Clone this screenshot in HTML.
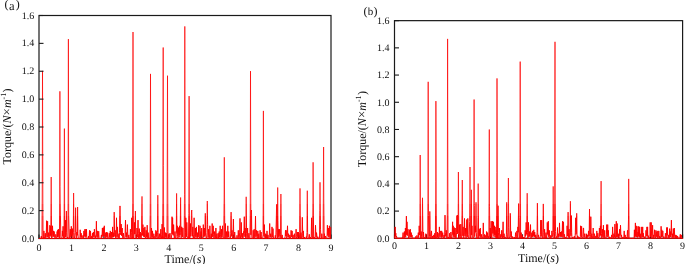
<!DOCTYPE html>
<html><head><meta charset="utf-8"><style>
html,body{margin:0;padding:0;background:#fff;}
body{width:685px;height:264px;overflow:hidden;}
svg{display:block;}
text{font-family:"Liberation Serif","Times New Roman",serif;fill:#111;text-rendering:geometricPrecision;}
.tk text{font-size:10px;}
.ax{font-size:12px;}
</style></head><body>
<svg width="685" height="264" viewBox="0 0 685 264">
<g fill="none" stroke="#1a1a1a" stroke-width="1.2">
<rect x="39.00" y="15.50" width="292.00" height="223.00"/>
<rect x="394.50" y="20.65" width="288.10" height="217.65"/>
</g>
<g stroke="#1a1a1a" stroke-width="1.1">
<line x1="39.00" y1="238.50" x2="39.00" y2="234.50"/>
<line x1="71.44" y1="238.50" x2="71.44" y2="234.50"/>
<line x1="103.89" y1="238.50" x2="103.89" y2="234.50"/>
<line x1="136.33" y1="238.50" x2="136.33" y2="234.50"/>
<line x1="168.78" y1="238.50" x2="168.78" y2="234.50"/>
<line x1="201.22" y1="238.50" x2="201.22" y2="234.50"/>
<line x1="233.67" y1="238.50" x2="233.67" y2="234.50"/>
<line x1="266.11" y1="238.50" x2="266.11" y2="234.50"/>
<line x1="298.56" y1="238.50" x2="298.56" y2="234.50"/>
<line x1="331.00" y1="238.50" x2="331.00" y2="234.50"/>
<line x1="394.50" y1="238.30" x2="394.50" y2="234.30"/>
<line x1="426.51" y1="238.30" x2="426.51" y2="234.30"/>
<line x1="458.52" y1="238.30" x2="458.52" y2="234.30"/>
<line x1="490.53" y1="238.30" x2="490.53" y2="234.30"/>
<line x1="522.54" y1="238.30" x2="522.54" y2="234.30"/>
<line x1="554.56" y1="238.30" x2="554.56" y2="234.30"/>
<line x1="586.57" y1="238.30" x2="586.57" y2="234.30"/>
<line x1="618.58" y1="238.30" x2="618.58" y2="234.30"/>
<line x1="650.59" y1="238.30" x2="650.59" y2="234.30"/>
<line x1="682.60" y1="238.30" x2="682.60" y2="234.30"/>
</g>
<defs>
<clipPath id="cu"><rect x="0" y="0" width="685" height="204"/></clipPath>
<clipPath id="cm"><rect x="0" y="204" width="685" height="12"/></clipPath>
<clipPath id="cl"><rect x="0" y="216" width="685" height="48"/></clipPath>
<polyline id="pL" points="39.0,238.5 39.3,238.2 39.7,238.5 40.0,238.2 40.3,238.4 40.6,238.4 41.0,238.5 41.3,236.1 41.6,238.3 42.0,238.5 42.3,169.5 42.5,70.9 43.0,238.4 43.3,238.5 43.6,236.9 43.9,230.9 44.3,236.8 44.6,238.5 44.9,237.3 45.3,233.2 45.6,237.5 45.9,238.4 46.3,233.4 46.6,220.7 46.9,235.6 47.2,237.1 47.6,221.2 47.9,236.6 48.2,237.6 48.6,232.6 48.9,237.3 49.2,238.5 49.6,236.6 49.9,225.2 50.2,236.4 50.5,226.3 50.9,234.9 51.2,177.0 51.5,238.5 51.9,238.5 52.2,235.2 52.5,225.8 52.9,236.8 53.2,236.6 53.5,230.9 53.8,236.4 54.2,231.5 54.5,237.5 54.8,238.5 55.2,238.3 55.5,237.6 55.8,234.3 56.2,237.7 56.5,238.3 56.8,238.0 57.1,231.5 57.5,237.1 57.8,229.8 58.1,236.8 58.5,229.2 58.8,235.8 59.1,238.5 59.5,238.3 59.9,91.3 60.1,186.5 60.4,213.0 60.8,236.9 61.1,238.3 61.4,238.5 61.8,238.5 62.1,236.9 62.4,230.9 62.8,236.2 63.1,226.3 63.4,237.1 63.7,238.5 64.1,232.0 64.4,128.6 64.7,238.5 65.1,234.4 65.4,220.1 65.7,237.0 66.1,233.6 66.4,211.0 66.7,232.5 67.0,238.5 67.4,238.3 67.7,237.0 68.0,238.5 68.4,39.1 68.7,215.0 69.0,228.0 69.4,237.1 69.7,238.5 70.0,236.8 70.3,229.2 70.7,235.8 71.0,237.5 71.3,226.3 71.7,235.4 72.0,236.2 72.3,228.6 72.7,235.6 73.0,238.3 73.3,232.5 73.6,193.0 74.0,232.5 74.3,238.5 74.6,238.5 75.0,235.4 75.3,232.5 75.6,207.7 76.0,232.5 76.3,238.3 76.6,237.3 76.9,232.0 77.3,235.3 77.6,207.0 77.9,233.6 78.3,238.5 78.6,238.5 78.9,238.2 79.3,238.5 79.6,238.4 79.9,237.9 80.2,229.8 80.6,236.8 80.9,237.7 81.2,233.2 81.6,237.6 81.9,238.5 82.2,238.3 82.6,237.8 82.9,235.4 83.2,238.0 83.5,237.8 83.9,230.9 84.2,236.5 84.5,235.8 84.9,229.2 85.2,237.5 85.5,236.6 85.9,229.2 86.2,236.4 86.5,229.2 86.8,237.9 87.2,238.5 87.5,238.3 87.8,238.5 88.2,238.5 88.5,236.1 88.8,238.5 89.2,236.2 89.5,230.3 89.8,236.3 90.1,237.9 90.5,230.9 90.8,236.9 91.1,238.5 91.5,236.2 91.8,238.4 92.1,237.8 92.5,233.2 92.8,238.0 93.1,236.8 93.4,232.0 93.8,237.0 94.1,236.7 94.4,229.2 94.8,236.6 95.1,238.3 95.4,235.7 95.8,238.5 96.1,233.9 96.4,221.2 96.7,236.2 97.1,237.2 97.4,230.9 97.7,237.7 98.1,238.4 98.4,237.3 98.7,231.2 99.1,237.8 99.4,238.5 99.7,238.5 100.0,238.5 100.4,238.5 100.7,238.5 101.0,238.0 101.4,234.9 101.7,237.7 102.0,237.2 102.4,228.0 102.7,236.3 103.0,235.8 103.3,227.5 103.7,236.2 104.0,236.4 104.3,225.8 104.7,236.6 105.0,238.3 105.3,238.1 105.7,232.6 106.0,237.1 106.3,236.6 106.6,232.0 107.0,237.8 107.3,237.2 107.6,232.6 108.0,237.3 108.3,238.5 108.6,238.5 109.0,237.2 109.3,233.2 109.6,237.3 109.9,237.7 110.3,230.9 110.6,237.9 110.9,238.3 111.3,237.6 111.6,232.0 111.9,237.9 112.3,236.2 112.6,226.9 112.9,237.2 113.2,232.6 113.6,237.0 113.9,236.9 114.2,212.1 114.6,232.5 114.9,236.4 115.2,230.3 115.6,238.0 115.9,238.5 116.2,234.6 116.5,217.8 116.9,237.3 117.2,236.5 117.5,226.9 117.9,237.7 118.2,238.5 118.5,237.6 118.9,233.7 119.2,238.2 119.5,232.5 119.8,206.0 120.2,206.0 120.5,232.5 120.8,234.9 121.2,224.1 121.5,235.4 121.8,235.9 122.2,228.0 122.5,237.4 122.8,238.5 123.1,238.1 123.5,233.2 123.8,237.8 124.1,238.5 124.5,238.5 124.8,238.5 125.1,234.1 125.5,220.1 125.8,234.1 126.1,237.1 126.4,232.6 126.8,237.6 127.1,236.0 127.4,224.6 127.8,235.2 128.1,238.5 128.4,237.8 128.8,234.9 129.1,238.1 129.4,238.5 129.7,238.5 130.1,236.9 130.4,229.2 130.7,235.9 131.1,238.5 131.4,232.5 131.7,217.8 132.1,237.1 132.4,238.3 132.7,202.1 133.0,32.0 133.4,238.5 133.7,238.5 134.0,235.7 134.4,222.4 134.7,234.1 135.0,228.0 135.4,211.0 135.7,234.8 136.0,238.5 136.3,238.5 136.7,235.7 137.0,228.0 137.3,237.3 137.7,235.1 138.0,220.1 138.3,233.5 138.7,238.5 139.0,235.8 139.3,228.6 139.6,237.7 140.0,237.7 140.3,232.0 140.6,237.5 141.0,238.5 141.3,238.5 141.6,232.5 142.0,196.4 142.3,235.5 142.6,235.1 142.9,224.6 143.3,235.4 143.6,236.6 143.9,228.0 144.3,237.0 144.6,237.1 144.9,226.9 145.3,236.2 145.6,238.5 145.9,236.4 146.2,230.3 146.6,237.4 146.9,236.9 147.2,225.2 147.6,237.8 147.9,238.0 148.2,232.6 148.6,238.0 148.9,238.5 149.2,238.4 149.5,238.5 149.9,238.5 150.2,214.3 150.5,73.9 150.9,238.5 151.2,236.8 151.5,228.0 151.9,235.9 152.2,237.4 152.5,230.9 152.8,237.8 153.2,238.5 153.5,238.1 153.8,233.7 154.2,237.1 154.5,236.6 154.8,238.5 155.2,238.3 155.5,236.8 155.8,230.3 156.1,236.7 156.5,231.5 156.8,236.5 157.1,238.4 157.5,232.5 157.8,195.2 158.1,232.5 158.5,238.5 158.8,238.5 159.1,237.6 159.4,233.7 159.8,237.7 160.1,238.5 160.4,237.1 160.8,229.2 161.1,237.2 161.4,238.5 161.8,234.7 162.1,224.1 162.4,235.2 162.7,238.5 163.2,47.5 163.4,165.5 163.7,238.5 164.1,235.4 164.4,227.5 164.7,237.9 165.1,236.2 165.4,232.6 165.7,237.4 166.0,237.5 166.4,233.2 166.7,237.7 167.0,238.5 167.5,75.7 167.7,171.5 168.0,238.5 168.4,238.5 168.7,237.0 169.0,233.7 169.3,237.2 169.7,237.5 170.0,233.2 170.3,237.9 170.7,238.5 171.0,238.5 171.3,238.5 171.7,234.7 172.0,216.7 172.3,234.2 172.6,217.8 173.0,234.4 173.3,235.3 173.6,224.6 174.0,234.4 174.3,238.5 174.6,237.3 175.0,231.5 175.3,238.1 175.6,238.5 175.9,238.5 176.3,234.5 176.6,193.4 176.9,232.5 177.3,225.8 177.6,236.3 177.9,238.5 178.3,235.8 178.6,227.5 178.9,235.4 179.2,237.4 179.6,225.8 179.9,235.1 180.2,232.5 180.6,197.5 180.9,232.5 181.2,237.9 181.6,226.9 181.9,226.9 182.2,236.2 182.5,236.9 182.9,228.0 183.2,237.4 183.5,238.5 183.9,238.5 184.2,238.5 184.5,194.8 184.8,26.4 185.2,238.5 185.5,232.6 185.8,217.8 186.2,237.0 186.5,236.3 186.8,222.4 187.2,235.8 187.5,238.5 187.8,238.5 188.2,238.5 188.5,238.3 188.8,213.4 189.1,96.1 189.5,238.3 189.8,238.5 190.1,236.8 190.5,223.5 190.8,236.4 191.1,232.5 191.5,211.0 191.8,210.0 192.1,232.5 192.4,236.3 192.8,226.9 193.1,237.3 193.4,238.5 193.8,234.3 194.1,217.8 194.4,236.2 194.8,238.5 195.1,237.1 195.4,228.0 195.7,236.6 196.1,237.2 196.4,226.9 196.7,235.8 197.1,238.5 197.4,237.9 197.7,232.6 198.1,237.0 198.4,235.5 198.7,225.2 199.0,237.4 199.4,238.5 199.7,236.2 200.0,225.8 200.4,237.7 200.7,237.8 201.0,231.5 201.4,236.1 201.7,228.0 202.0,236.4 202.3,238.5 202.7,238.5 203.0,236.0 203.3,224.6 203.7,237.2 204.0,237.2 204.3,228.0 204.7,236.2 205.0,234.1 205.3,213.3 205.6,235.2 206.0,237.0 206.3,238.5 206.6,238.5 207.0,232.5 207.3,201.0 207.6,224.6 208.0,237.6 208.3,235.9 208.6,229.2 208.9,237.1 209.3,238.2 209.6,235.0 209.9,225.8 210.3,237.1 210.6,238.5 210.9,237.6 211.3,233.7 211.6,238.0 211.9,234.4 212.2,223.5 212.6,236.9 212.9,236.1 213.2,225.8 213.6,234.8 213.9,238.4 214.2,236.9 214.6,231.5 214.9,237.2 215.2,238.5 215.5,237.0 215.9,228.0 216.2,236.6 216.5,238.3 216.9,233.7 217.2,238.1 217.5,238.5 217.9,237.9 218.2,233.2 218.5,238.2 218.8,237.7 219.2,231.5 219.5,237.4 219.8,235.1 220.2,225.8 220.5,234.9 220.8,238.3 221.2,238.0 221.5,229.2 221.8,237.0 222.1,235.7 222.5,225.8 222.8,235.5 223.1,238.5 223.5,238.5 223.8,238.5 224.1,197.9 224.3,157.3 224.8,238.5 225.1,237.0 225.4,223.5 225.8,237.7 226.1,237.7 226.4,231.5 226.8,237.6 227.1,238.5 227.4,237.3 227.8,225.8 228.1,237.0 228.4,237.0 228.7,231.5 229.1,237.8 229.4,238.4 229.7,238.3 230.1,238.5 230.4,238.3 230.7,233.9 231.1,212.1 231.4,232.5 231.7,236.4 232.0,230.3 232.4,236.5 232.7,238.5 233.0,232.9 233.4,219.0 233.7,233.0 234.0,238.4 234.4,237.3 234.7,232.0 235.0,237.1 235.3,238.5 235.7,238.3 236.0,238.5 236.3,238.5 236.7,238.4 237.0,235.3 237.3,238.5 237.7,238.5 238.0,237.4 238.3,230.3 238.6,237.0 239.0,238.4 239.3,238.5 239.6,232.9 240.0,218.4 240.3,234.9 240.6,238.2 241.0,236.0 241.3,222.4 241.6,235.0 241.9,237.6 242.3,233.2 242.6,238.1 242.9,238.5 243.3,237.5 243.6,231.5 243.9,232.5 244.3,216.7 244.6,233.4 244.9,236.8 245.2,228.0 245.6,237.8 245.9,232.5 246.2,196.8 246.6,233.8 246.9,238.5 247.2,237.7 247.6,228.0 247.9,237.3 248.2,238.3 248.5,237.5 248.9,233.2 249.2,238.1 249.5,238.5 249.9,238.3 250.2,218.8 250.5,71.1 250.9,234.8 251.2,212.0 251.5,210.0 251.8,236.9 252.2,238.5 252.5,238.5 252.8,237.9 253.2,230.3 253.5,237.8 253.8,236.8 254.2,229.2 254.5,236.1 254.8,238.5 255.1,236.4 255.5,216.1 255.8,236.8 256.1,236.4 256.5,230.3 256.8,236.1 257.1,238.5 257.5,236.7 257.8,230.9 258.1,238.0 258.4,238.1 258.8,233.7 259.1,238.1 259.4,238.5 259.8,237.9 260.1,230.3 260.4,237.1 260.8,238.1 261.1,232.0 261.4,236.9 261.7,238.3 262.1,238.5 262.4,238.5 262.7,238.4 263.1,234.7 263.4,110.9 263.7,234.7 264.1,236.4 264.4,224.6 264.7,237.1 265.0,238.5 265.4,238.1 265.7,233.7 266.0,237.6 266.4,238.5 266.7,236.6 267.0,230.9 267.4,237.0 267.7,238.1 268.0,234.9 268.3,237.6 268.7,238.5 269.0,238.5 269.3,235.8 269.7,223.5 270.0,235.6 270.3,237.2 270.7,233.7 271.0,237.4 271.3,238.5 271.6,237.6 272.0,226.9 272.3,235.9 272.6,237.3 273.0,228.6 273.3,236.0 273.6,238.5 274.0,238.5 274.3,238.4 274.6,238.5 274.9,238.5 275.3,235.3 275.6,238.5 275.9,235.0 276.3,220.0 276.6,204.3 276.9,232.5 277.3,238.2 277.7,187.5 277.9,220.5 278.2,237.7 278.6,229.2 278.9,236.5 279.2,235.8 279.6,229.2 279.9,238.0 280.2,238.5 280.6,234.8 280.9,194.0 281.2,234.0 281.5,238.5 281.9,238.3 282.2,234.9 282.5,237.9 282.9,238.3 283.2,238.5 283.5,238.5 283.9,238.5 284.2,238.3 284.5,238.5 284.8,238.3 285.2,236.2 285.5,230.3 285.8,236.1 286.2,230.3 286.5,236.6 286.8,238.5 287.2,235.3 287.5,225.8 287.8,235.3 288.1,237.1 288.5,233.7 288.8,237.1 289.1,238.5 289.5,238.0 289.8,234.9 290.1,236.9 290.5,238.4 290.8,237.0 291.1,230.3 291.4,236.1 291.8,237.0 292.1,230.9 292.4,237.4 292.8,238.3 293.1,234.9 293.4,237.7 293.8,238.2 294.1,238.2 294.4,233.7 294.7,237.5 295.1,238.2 295.4,238.5 295.7,237.4 296.1,229.2 296.4,236.5 296.7,238.5 297.1,236.6 297.4,232.0 297.7,237.6 298.0,237.3 298.4,232.0 298.7,237.3 299.0,238.4 299.4,238.5 299.7,232.6 300.0,188.4 300.4,238.3 300.7,238.0 301.0,232.6 301.3,237.1 301.7,238.5 302.0,233.7 302.3,217.3 302.7,233.4 303.0,237.7 303.3,230.9 303.7,238.0 304.0,238.5 304.3,238.3 304.6,237.0 305.0,238.4 305.3,238.5 305.6,238.5 306.0,238.5 306.3,236.6 306.6,238.5 307.0,232.5 307.3,190.7 307.6,232.5 307.9,237.0 308.3,238.4 308.6,238.5 308.9,237.9 309.3,234.3 309.6,237.9 309.9,238.3 310.3,237.0 310.6,238.3 310.9,238.3 311.2,237.3 311.6,217.8 311.9,235.2 312.2,238.5 312.6,238.5 312.9,207.1 313.1,162.3 313.6,238.3 313.9,238.2 314.2,237.0 314.5,238.3 314.9,238.5 315.2,236.0 315.5,225.2 315.9,235.2 316.2,237.4 316.5,232.6 316.9,235.8 317.2,238.4 317.5,238.1 317.8,236.7 318.2,238.2 318.5,238.2 318.8,238.5 319.2,238.3 319.5,238.5 319.8,210.4 320.0,182.3 320.5,229.2 320.8,236.9 321.1,238.4 321.5,238.2 321.8,233.7 322.1,237.1 322.5,238.5 322.8,238.5 323.1,238.5 323.6,147.0 323.8,198.1 324.1,238.2 324.4,233.7 324.8,238.0 325.1,238.3 325.4,236.0 325.8,237.8 326.1,238.5 326.4,238.3 326.8,238.5 327.1,234.8 327.4,225.2 327.7,235.4 328.1,235.3 328.4,228.0 328.7,237.3 329.1,235.0 329.4,225.8 329.7,237.5 330.1,238.5 330.4,237.0 330.7,226.9"/>
<polyline id="pR" points="394.5,238.3 394.8,235.1 395.2,226.9 395.5,236.4 395.8,233.2 396.1,237.4 396.5,236.0 396.8,237.9 397.1,238.3 397.5,238.0 397.8,238.3 398.1,238.3 398.5,238.3 398.8,238.3 399.1,238.3 399.4,238.3 399.8,238.3 400.1,238.3 400.4,238.3 400.8,238.3 401.1,238.3 401.4,237.8 401.8,238.3 402.1,238.3 402.4,238.3 402.7,237.0 403.1,232.6 403.4,237.9 403.7,238.3 404.1,237.5 404.4,231.5 404.7,237.7 405.1,237.5 405.4,228.0 405.7,236.9 406.0,234.7 406.4,216.1 406.7,234.8 407.0,221.8 407.4,234.8 407.7,235.6 408.0,229.2 408.4,236.2 408.7,238.2 409.0,236.0 409.3,235.9 409.7,229.8 410.0,237.4 410.3,229.2 410.7,236.8 411.0,236.9 411.3,232.6 411.7,237.3 412.0,234.9 412.3,237.8 412.6,238.2 413.0,238.3 413.3,238.3 413.6,238.3 414.0,238.3 414.3,238.3 414.6,238.3 415.0,238.3 415.3,237.8 415.6,236.5 415.9,238.1 416.3,238.3 416.6,237.7 416.9,235.4 417.3,237.9 417.6,238.3 417.9,237.9 418.3,232.6 418.6,237.5 418.9,236.2 419.2,225.8 419.6,235.0 419.9,226.1 420.2,155.0 420.6,238.1 420.9,237.7 421.2,231.5 421.6,236.5 421.9,238.3 422.2,233.0 422.5,197.8 422.9,233.3 423.2,237.8 423.5,232.0 423.9,237.5 424.2,238.3 424.5,238.1 424.9,237.0 425.2,237.9 425.5,237.6 425.8,233.7 426.2,237.7 426.5,238.3 426.8,238.3 427.2,238.3 427.5,238.2 427.8,238.2 428.2,81.8 428.5,215.3 428.8,238.3 429.1,238.0 429.5,236.7 429.8,211.4 430.1,229.8 430.5,236.3 430.8,238.3 431.1,237.1 431.5,230.9 431.8,236.2 432.1,238.0 432.4,236.0 432.8,237.8 433.1,238.3 433.4,237.8 433.8,234.9 434.1,237.7 434.4,237.6 434.8,233.2 435.1,237.9 435.4,238.2 435.7,181.8 435.9,101.1 436.4,238.3 436.7,238.3 437.1,237.7 437.4,232.0 437.7,237.3 438.1,233.2 438.4,236.8 438.7,238.0 439.0,237.4 439.4,226.9 439.7,235.2 440.0,236.9 440.4,232.0 440.7,230.9 441.0,237.5 441.4,237.7 441.7,230.9 442.0,237.1 442.3,236.6 442.7,232.6 443.0,237.2 443.3,238.3 443.7,238.1 444.0,234.9 444.3,237.7 444.7,234.1 445.0,215.0 445.3,232.3 445.6,236.3 446.0,236.5 446.3,230.3 446.6,235.8 447.0,238.3 447.3,214.8 447.6,38.9 448.0,238.3 448.3,238.2 448.6,237.0 448.9,238.2 449.3,237.3 449.6,233.2 449.9,237.3 450.3,238.3 450.6,237.1 450.9,232.0 451.3,236.6 451.6,238.1 451.9,238.0 452.2,233.9 452.6,221.8 452.9,234.6 453.2,225.8 453.6,236.2 453.9,237.5 454.2,227.5 454.6,235.2 454.9,237.4 455.2,228.0 455.5,237.7 455.9,238.3 456.2,238.3 456.5,232.7 456.9,215.5 457.2,234.0 457.5,215.0 457.9,233.3 458.2,213.0 458.4,172.0 458.8,238.1 459.2,236.8 459.5,224.6 459.8,236.3 460.2,238.2 460.5,236.6 460.8,224.1 461.2,237.0 461.5,238.2 461.8,238.3 462.3,180.0 462.5,210.9 462.8,235.8 463.1,226.9 463.5,236.6 463.8,238.3 464.1,235.4 464.5,218.4 464.8,234.4 465.1,236.1 465.4,228.0 465.8,235.8 466.1,238.0 466.4,234.1 466.8,219.5 467.1,236.0 467.4,236.9 467.8,218.4 468.1,234.3 468.4,238.3 468.7,238.2 469.1,237.3 469.4,228.0 469.7,221.5 470.0,167.0 470.4,238.3 470.7,238.2 471.1,235.3 471.4,189.8 471.7,234.9 472.0,225.8 472.4,237.5 472.7,238.2 473.0,238.1 473.4,238.2 473.7,238.3 474.1,99.5 474.4,205.6 474.7,236.7 475.0,226.9 475.3,225.8 475.7,232.3 476.0,202.3 476.3,232.3 476.7,238.3 477.0,238.3 477.3,238.3 477.7,238.3 478.0,217.4 478.2,183.6 478.6,238.3 479.0,237.3 479.3,229.2 479.6,235.7 480.0,236.3 480.3,228.0 480.6,237.5 481.0,238.3 481.3,237.3 481.6,234.3 481.9,237.4 482.3,238.3 482.6,238.3 482.9,236.0 483.3,222.9 483.6,234.6 483.9,238.2 484.3,237.3 484.6,234.3 484.9,237.8 485.2,237.5 485.6,235.4 485.9,237.7 486.2,237.9 486.6,231.5 486.9,237.6 487.2,238.0 487.6,232.6 487.9,237.1 488.2,236.2 488.5,238.2 488.9,238.3 489.3,129.5 489.5,206.3 489.9,237.5 490.2,228.0 490.5,236.6 490.9,235.3 491.2,221.2 491.5,237.2 491.8,238.2 492.2,233.2 492.5,221.2 492.8,233.4 493.2,233.4 493.5,221.8 493.8,236.0 494.2,236.8 494.5,225.8 494.8,234.9 495.1,226.9 495.5,235.5 495.8,237.6 496.1,230.3 496.5,237.9 496.8,172.5 497.0,78.4 497.5,238.1 497.8,232.3 498.1,205.7 498.4,232.4 498.8,238.1 499.1,235.7 499.4,228.0 499.8,237.1 500.1,238.3 500.4,237.7 500.8,234.3 501.1,237.3 501.4,236.3 501.7,230.3 502.1,236.8 502.4,238.3 502.7,233.9 503.1,221.8 503.4,235.6 503.7,237.6 504.1,233.7 504.4,237.4 504.7,238.0 505.0,237.0 505.4,238.1 505.7,238.3 506.0,238.3 506.4,234.8 506.7,202.3 507.0,232.4 507.4,238.3 507.7,238.3 508.0,238.1 508.4,178.0 508.7,227.7 509.0,236.0 509.3,238.3 509.7,238.2 510.0,236.1 510.3,213.3 510.7,233.5 511.0,237.1 511.3,231.5 511.6,237.0 512.0,238.2 512.3,238.0 512.6,236.5 513.0,237.9 513.3,238.0 513.6,238.3 514.0,238.1 514.3,237.0 514.6,238.1 514.9,238.3 515.3,236.7 515.6,232.6 515.9,237.9 516.3,238.3 516.6,236.6 516.9,230.9 517.3,237.8 517.6,237.7 517.9,226.9 518.2,232.3 518.6,203.5 518.9,232.6 519.2,238.3 519.6,238.0 519.9,217.5 520.2,61.6 520.6,238.3 520.9,237.9 521.2,232.6 521.5,237.9 521.9,237.6 522.2,235.4 522.5,237.9 522.9,238.2 523.2,238.1 523.5,237.0 523.9,238.0 524.2,238.3 524.5,238.3 524.8,236.9 525.2,230.3 525.5,236.4 525.8,235.8 526.2,222.4 526.5,234.4 526.8,232.3 527.2,193.2 527.5,232.3 527.8,238.3 528.1,236.2 528.5,222.4 528.8,237.0 529.1,236.6 529.5,231.5 529.8,236.4 530.1,234.7 530.5,224.6 530.8,237.3 531.1,238.0 531.4,237.4 531.8,232.6 532.1,237.1 532.4,236.9 532.8,230.9 533.1,236.4 533.4,235.8 533.8,229.8 534.1,236.5 534.4,236.9 534.7,232.0 535.1,237.1 535.4,237.7 535.7,234.9 536.1,237.4 536.4,238.3 536.7,238.1 537.1,232.3 537.4,203.0 537.7,232.3 538.0,237.5 538.4,234.9 538.7,237.5 539.0,238.3 539.4,238.2 539.7,238.3 540.0,238.1 540.4,234.6 540.7,220.1 541.0,236.4 541.3,236.3 541.7,220.1 542.0,234.9 542.3,238.3 542.7,237.3 543.0,229.2 543.3,203.9 543.7,232.3 544.0,238.3 544.3,236.2 544.6,229.2 545.0,237.6 545.3,238.2 545.6,237.1 546.0,232.6 546.3,237.0 546.6,238.0 547.0,234.9 547.3,222.4 547.6,234.3 547.9,234.5 548.3,221.2 548.6,236.8 548.9,237.3 549.3,230.3 549.6,236.5 549.9,238.3 550.3,237.6 550.6,235.4 550.9,238.0 551.2,236.6 551.6,237.1 551.9,230.9 552.2,236.8 552.6,236.4 552.9,232.3 553.2,186.4 553.6,232.3 553.9,238.3 554.2,238.0 554.5,238.1 555.0,41.8 555.2,163.2 555.5,231.5 555.9,236.6 556.2,238.2 556.5,236.5 556.9,237.8 557.2,237.0 557.5,227.5 557.8,236.8 558.2,237.6 558.5,233.7 558.8,237.0 559.2,236.1 559.5,222.9 559.8,234.4 560.2,236.4 560.5,232.0 560.8,236.9 561.1,236.8 561.5,231.5 561.8,236.8 562.1,235.1 562.5,221.2 562.8,237.4 563.1,235.9 563.5,221.8 563.8,236.0 564.1,237.9 564.4,234.3 564.8,237.4 565.1,238.2 565.4,238.2 565.8,237.0 566.1,238.2 566.4,238.2 566.8,237.4 567.1,225.8 567.4,236.1 567.7,234.2 568.1,212.1 568.4,232.3 568.7,237.6 569.1,229.2 569.4,236.1 569.7,238.0 570.1,235.8 570.4,201.2 570.7,232.3 571.0,235.8 571.4,215.5 571.7,232.4 572.0,238.3 572.4,238.1 572.7,237.0 573.0,238.0 573.4,238.0 573.7,238.1 574.0,238.0 574.3,236.1 574.7,238.0 575.0,238.2 575.3,232.8 575.7,217.8 576.0,234.4 576.3,233.7 576.7,213.3 577.0,234.8 577.3,237.9 577.6,236.0 578.0,235.9 578.3,238.3 578.6,238.1 579.0,237.0 579.3,238.0 579.6,238.3 580.0,238.3 580.3,236.6 580.6,225.8 580.9,235.1 581.3,237.2 581.6,226.3 581.9,237.5 582.3,238.3 582.6,238.1 582.9,236.7 583.3,228.0 583.6,228.0 583.9,237.6 584.2,237.2 584.6,233.7 584.9,237.7 585.2,238.3 585.6,238.3 585.9,237.3 586.2,233.7 586.6,235.8 586.9,238.3 587.2,237.7 587.5,234.9 587.9,237.4 588.2,237.0 588.5,230.9 588.9,236.0 589.2,234.9 589.5,209.0 589.9,238.3 590.2,238.3 590.5,234.5 590.8,216.7 591.2,235.2 591.5,237.7 591.8,233.7 592.2,237.5 592.5,238.3 592.8,235.6 593.2,228.0 593.5,235.8 593.8,238.1 594.1,237.2 594.5,233.7 594.8,237.9 595.1,238.0 595.5,237.5 595.8,235.9 596.1,238.3 596.5,237.5 596.8,230.9 597.1,236.2 597.4,237.6 597.8,233.2 598.1,237.0 598.4,238.2 598.8,238.2 599.1,236.5 599.4,228.0 599.8,236.6 600.1,235.6 600.4,225.8 600.7,235.3 601.1,181.1 601.4,233.3 601.7,238.0 602.1,237.2 602.4,229.2 602.7,236.3 603.1,237.2 603.4,225.2 603.7,236.9 604.0,238.1 604.4,237.2 604.7,230.3 605.0,237.9 605.4,238.3 605.7,238.2 606.0,238.3 606.4,234.8 606.7,224.6 607.0,235.9 607.3,237.0 607.7,224.6 608.0,235.5 608.3,230.3 608.7,237.6 609.0,238.3 609.3,238.3 609.7,236.9 610.0,237.0 610.3,238.2 610.6,238.3 611.0,238.3 611.3,237.9 611.6,234.9 612.0,237.3 612.3,237.5 612.6,226.9 613.0,236.3 613.3,238.3 613.6,237.4 613.9,233.7 614.3,237.5 614.6,234.2 614.9,224.1 615.3,237.5 615.6,238.2 615.9,234.1 616.3,221.2 616.6,237.2 616.9,237.2 617.2,223.5 617.6,236.0 617.9,237.4 618.2,233.7 618.6,237.4 618.9,238.3 619.2,237.2 619.6,229.2 619.9,235.6 620.2,234.9 620.5,225.2 620.9,235.8 621.2,237.3 621.5,234.9 621.9,237.9 622.2,238.3 622.5,237.9 622.9,237.0 623.2,238.1 623.5,238.3 623.8,237.9 624.2,230.9 624.5,236.2 624.8,237.9 625.2,234.9 625.5,238.0 625.8,238.3 626.2,238.2 626.5,237.0 626.8,238.0 627.1,236.5 627.5,230.3 627.8,236.2 628.1,238.1 628.5,219.1 628.7,178.9 629.1,238.3 629.5,238.3 629.8,238.3 630.1,238.3 630.4,238.3 630.8,238.3 631.1,238.3 631.4,238.3 631.8,237.9 632.1,238.2 632.4,238.3 632.8,238.3 633.1,238.3 633.4,238.3 633.7,238.3 634.1,237.4 634.4,229.8 634.7,237.4 635.1,233.9 635.4,222.9 635.7,236.6 636.1,225.8 636.4,235.2 636.7,237.1 637.0,226.3 637.4,235.8 637.7,237.5 638.0,232.0 638.4,236.5 638.7,226.3 639.0,235.2 639.4,237.0 639.7,226.9 640.0,237.7 640.3,233.7 640.7,238.0 641.0,238.3 641.3,237.1 641.7,226.9 642.0,237.1 642.3,237.1 642.7,226.9 643.0,237.2 643.3,233.2 643.6,237.2 644.0,236.3 644.3,238.2 644.6,237.0 645.0,238.0 645.3,238.3 645.6,237.6 646.0,230.3 646.3,236.3 646.6,235.7 646.9,226.9 647.3,236.3 647.6,226.9 647.9,237.6 648.3,237.9 648.6,235.7 648.9,238.0 649.3,238.2 649.6,238.2 649.9,236.6 650.2,222.4 650.6,236.8 650.9,233.8 651.2,222.4 651.6,235.1 651.9,238.3 652.2,235.0 652.6,225.2 652.9,235.1 653.2,238.1 653.5,234.9 653.9,237.4 654.2,236.4 654.5,229.8 654.9,236.8 655.2,238.3 655.5,236.9 655.9,230.3 656.2,236.9 656.5,236.5 656.8,231.5 657.2,237.5 657.5,237.8 657.8,230.9 658.2,237.6 658.5,236.6 658.8,230.9 659.2,237.2 659.5,238.0 659.8,236.0 660.1,237.6 660.5,238.3 660.8,236.2 661.1,226.3 661.5,237.1 661.8,229.8 662.1,236.9 662.5,236.1 662.8,230.9 663.1,237.7 663.4,237.9 663.8,236.5 664.1,237.9 664.4,238.1 664.8,238.2 665.1,237.9 665.4,233.2 665.8,236.8 666.1,238.3 666.4,237.0 666.7,227.5 667.1,235.2 667.4,227.5 667.7,235.1 668.1,238.3 668.4,237.7 668.7,234.9 669.1,237.9 669.4,237.7 669.7,228.6 670.0,235.5 670.4,237.1 670.7,231.5 671.0,234.7 671.4,220.1 671.7,233.9 672.0,237.6 672.4,233.7 672.7,237.6 673.0,236.4 673.3,228.6 673.7,237.7 674.0,236.7 674.3,228.0 674.7,236.1 675.0,238.2 675.3,237.9 675.7,234.9 676.0,238.0 676.3,237.9 676.6,235.4 677.0,237.9 677.3,237.8 677.6,236.0 678.0,238.0 678.3,238.3 678.6,238.3 679.0,238.3 679.3,238.3 679.6,238.3 679.9,237.2 680.3,234.3 680.6,238.0 680.9,236.5 681.3,234.9 681.6,237.7 681.9,238.3 682.3,238.3 682.6,238.3"/>
</defs>
<g fill="none" stroke="#ff0000" stroke-linejoin="miter" stroke-miterlimit="2">
<g clip-path="url(#cu)" stroke-width="0.72"><use href="#pL"/><use href="#pR"/></g>
<g clip-path="url(#cm)" stroke-width="0.83"><use href="#pL"/><use href="#pR"/></g>
<g clip-path="url(#cl)" stroke-width="0.95"><use href="#pL"/><use href="#pR"/></g>
<line x1="39.0" y1="238.5" x2="331.0" y2="238.5" stroke-width="0.8"/>
<line x1="394.5" y1="238.3" x2="682.6" y2="238.3" stroke-width="0.8"/>
</g>
<g stroke="#1a1a1a" stroke-width="1.1">
<line x1="39.00" y1="210.62" x2="43.50" y2="210.62"/>
<line x1="39.00" y1="182.75" x2="43.50" y2="182.75"/>
<line x1="39.00" y1="154.88" x2="43.50" y2="154.88"/>
<line x1="39.00" y1="127.00" x2="43.50" y2="127.00"/>
<line x1="39.00" y1="99.12" x2="43.50" y2="99.12"/>
<line x1="39.00" y1="71.25" x2="43.50" y2="71.25"/>
<line x1="39.00" y1="43.37" x2="43.50" y2="43.37"/>
<line x1="39.00" y1="15.50" x2="43.50" y2="15.50"/>
<line x1="394.50" y1="211.09" x2="399.00" y2="211.09"/>
<line x1="394.50" y1="183.89" x2="399.00" y2="183.89"/>
<line x1="394.50" y1="156.68" x2="399.00" y2="156.68"/>
<line x1="394.50" y1="129.48" x2="399.00" y2="129.48"/>
<line x1="394.50" y1="102.27" x2="399.00" y2="102.27"/>
<line x1="394.50" y1="75.06" x2="399.00" y2="75.06"/>
<line x1="394.50" y1="47.86" x2="399.00" y2="47.86"/>
<line x1="394.50" y1="20.65" x2="399.00" y2="20.65"/>
</g>
<g class="tk">
<text x="39.00" y="250.50" text-anchor="middle">0</text>
<text x="71.44" y="250.50" text-anchor="middle">1</text>
<text x="103.89" y="250.50" text-anchor="middle">2</text>
<text x="136.33" y="250.50" text-anchor="middle">3</text>
<text x="168.78" y="250.50" text-anchor="middle">4</text>
<text x="201.22" y="250.50" text-anchor="middle">5</text>
<text x="233.67" y="250.50" text-anchor="middle">6</text>
<text x="266.11" y="250.50" text-anchor="middle">7</text>
<text x="298.56" y="250.50" text-anchor="middle">8</text>
<text x="331.00" y="250.50" text-anchor="middle">9</text>
<text x="34.30" y="241.60" text-anchor="end">0.0</text>
<text x="34.30" y="213.72" text-anchor="end">0.2</text>
<text x="34.30" y="185.85" text-anchor="end">0.4</text>
<text x="34.30" y="157.97" text-anchor="end">0.6</text>
<text x="34.30" y="130.10" text-anchor="end">0.8</text>
<text x="34.30" y="102.22" text-anchor="end">1.0</text>
<text x="34.30" y="74.35" text-anchor="end">1.2</text>
<text x="34.30" y="46.47" text-anchor="end">1.4</text>
<text x="34.30" y="18.60" text-anchor="end">1.6</text>
<text x="394.50" y="249.40" text-anchor="middle">0</text>
<text x="426.51" y="249.40" text-anchor="middle">1</text>
<text x="458.52" y="249.40" text-anchor="middle">2</text>
<text x="490.53" y="249.40" text-anchor="middle">3</text>
<text x="522.54" y="249.40" text-anchor="middle">4</text>
<text x="554.56" y="249.40" text-anchor="middle">5</text>
<text x="586.57" y="249.40" text-anchor="middle">6</text>
<text x="618.58" y="249.40" text-anchor="middle">7</text>
<text x="650.59" y="249.40" text-anchor="middle">8</text>
<text x="682.60" y="249.40" text-anchor="middle">9</text>
<text x="389.50" y="241.70" text-anchor="end">0.0</text>
<text x="389.50" y="214.49" text-anchor="end">0.2</text>
<text x="389.50" y="187.29" text-anchor="end">0.4</text>
<text x="389.50" y="160.08" text-anchor="end">0.6</text>
<text x="389.50" y="132.88" text-anchor="end">0.8</text>
<text x="389.50" y="105.67" text-anchor="end">1.0</text>
<text x="389.50" y="78.46" text-anchor="end">1.2</text>
<text x="389.50" y="51.26" text-anchor="end">1.4</text>
<text x="389.50" y="24.05" text-anchor="end">1.6</text>
</g>
<text class="ax" x="185" y="263.3" text-anchor="middle">Time/(<tspan font-style="italic">s</tspan>)</text>
<text class="ax" x="538.5" y="261.8" text-anchor="middle">Time/(<tspan font-style="italic">s</tspan>)</text>
<text class="ax" transform="translate(11,126.5) rotate(-90)" text-anchor="middle">Torque/(<tspan font-style="italic">N</tspan><tspan font-size="13">×</tspan><tspan font-style="italic">m</tspan><tspan font-size="8" dy="-5.5">-1</tspan><tspan dy="5.5" dx="0.3">)</tspan></text>
<text class="ax" transform="translate(366.2,129.2) rotate(-90)" text-anchor="middle">Torque/(<tspan font-style="italic">N</tspan><tspan font-size="13">×</tspan><tspan font-style="italic">m</tspan><tspan font-size="8" dy="-5.5">-1</tspan><tspan dy="5.5" dx="0.3">)</tspan></text>
<text class="ax" x="4.6" y="7.6" fill="#2a2a2a">(<tspan font-size="12.5" dy="1.9" dx="0.3">a</tspan><tspan dy="-1.9" dx="1.2">)</tspan></text>
<text class="ax" x="363.6" y="14.6" fill="#2a2a2a" font-size="11.5">(<tspan font-size="11" dy="0.6" dx="0.2">b</tspan><tspan dy="-0.6" dx="0.3">)</tspan></text>
</svg>
</body></html>
